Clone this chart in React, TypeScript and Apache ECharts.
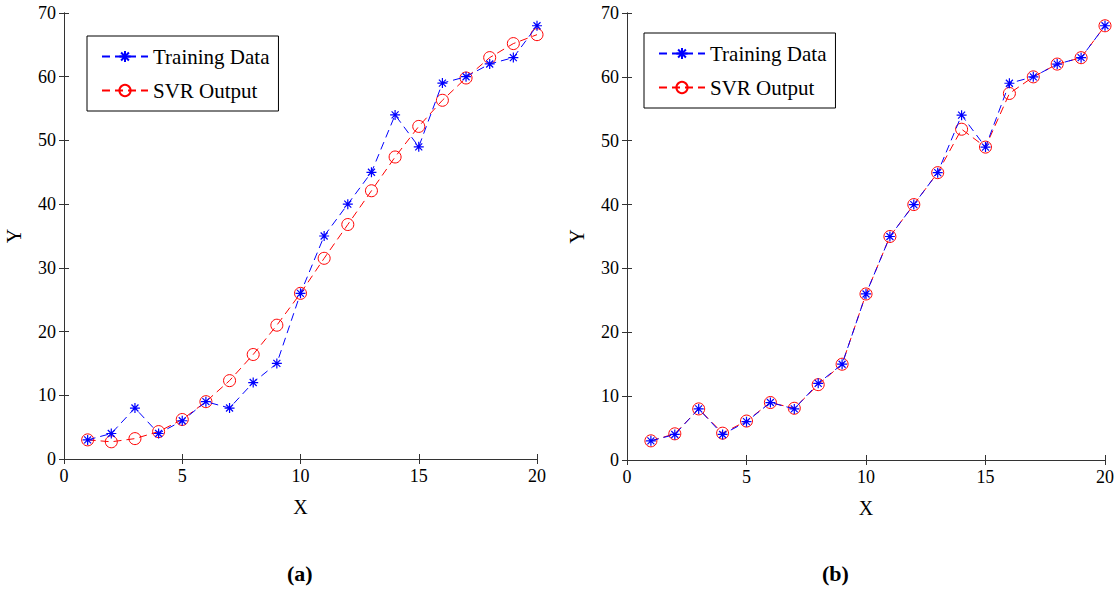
import React, { useEffect, useRef } from "react";
import * as echarts from "echarts";

const xValues = [1, 2, 3, 4, 5, 6, 7, 8, 9, 10, 11, 12, 13, 14, 15, 16, 17, 18, 19, 20];
const trainingData = [3, 4, 8, 4, 6, 9, 8, 12, 15, 26, 35, 40, 45, 54, 49, 59, 60, 62, 63, 68];
const svrOutputA = [3, 2.7, 3.2, 4.3, 6.2, 9, 12.3, 16.4, 21, 26, 31.5, 36.8, 42.1, 47.4, 52.2, 56.3, 59.8, 63, 65.2, 66.6];
const svrOutputB = [3, 4.1, 8, 4.2, 6.1, 9, 8.1, 11.8, 15, 26, 35, 40, 45, 51.8, 49, 57.4, 60, 62, 63, 68];
const xTicks = { min: 0, max: 20, interval: 5 };
const yTicks = { min: 0, max: 70, interval: 10 };
const captions = ["(a)", "(b)"];

const FONT = "Liberation Serif";
const STAR = "path://M0,-10L0,10M-10,0L10,0M-7,-7L7,7M-7,7L7,-7";

const pairs = (ys: number[]) => xValues.map((x, i) => [x, ys[i]]);

export default function App() {
  const ref = useRef<HTMLDivElement>(null);
  useEffect(() => {
    document.body.style.margin = "0";
    const chart = echarts.init(ref.current!, null, { renderer: "svg" });
    const grids = [
      { left: 64, top: 13, width: 473, height: 446 },
      { left: 627, top: 13, width: 478, height: 447 },
    ];
    const axisLine = { show: true, lineStyle: { color: "#333", width: 1 } };
    const tick = { show: true, inside: true, length: 5, lineStyle: { color: "#333" } };
    const label = { fontFamily: FONT, fontSize: 18, color: "#000" };
    const xAxis: any[] = [];
    const yAxis: any[] = [];
    grids.forEach((_, g) => {
      xAxis.push({
        type: "value", gridIndex: g, ...xTicks, position: "bottom",
        name: "X", nameLocation: "middle", nameGap: 38,
        nameTextStyle: { fontFamily: FONT, fontSize: 20, color: "#000" },
        axisLine, axisTick: tick, splitLine: { show: false },
        axisLabel: { ...label, margin: 8 },
      });
      xAxis.push({
        type: "value", gridIndex: g, ...xTicks, position: "top",
        axisLine, axisTick: tick, splitLine: { show: false }, axisLabel: { show: false },
      });
      yAxis.push({
        type: "value", gridIndex: g, ...yTicks, position: "left",
        name: "Y", nameLocation: "middle", nameGap: 40,
        nameTextStyle: { fontFamily: FONT, fontSize: 20, color: "#000" },
        axisLine, axisTick: tick, splitLine: { show: false },
        axisLabel: { ...label, margin: 8 },
      });
      yAxis.push({
        type: "value", gridIndex: g, ...yTicks, position: "right",
        axisLine, axisTick: tick, splitLine: { show: false }, axisLabel: { show: false },
      });
    });
    const mkTraining = (g: number) => ({
      name: "Training Data", type: "line", xAxisIndex: g * 2, yAxisIndex: g * 2,
      data: pairs(trainingData), symbol: STAR, symbolSize: 10,
      lineStyle: { color: "#0000ff", width: 1, type: [8, 5] },
      itemStyle: { color: "rgba(0,0,0,0)", borderColor: "#0000ff", borderWidth: 1.2 },
      z: 3,
    });
    const mkSvr = (g: number, ys: number[]) => ({
      name: "SVR Output", type: "line", xAxisIndex: g * 2, yAxisIndex: g * 2,
      data: pairs(ys), symbol: "circle", symbolSize: 12,
      lineStyle: { color: "#ff0000", width: 1, type: [8, 5] },
      itemStyle: { color: "rgba(0,0,0,0)", borderColor: "#ff0000", borderWidth: 1 },
      z: 2,
    });
    const legendBase = {
      orient: "vertical", borderColor: "#000", borderWidth: 1, backgroundColor: "#fff",
      padding: [10, 9, 10, 14], itemWidth: 46, itemHeight: 14, itemGap: 13,
      textStyle: { fontFamily: FONT, fontSize: 21, color: "#000" },
      selectedMode: false,
      data: ["Training Data", "SVR Output"],
    };
    chart.setOption({
      animation: false,
      backgroundColor: "#fff",
      grid: grids,
      xAxis,
      yAxis,
      legend: [
        { ...legendBase, left: 87, top: 36 },
        { ...legendBase, left: 644, top: 33 },
      ],
      series: [mkSvr(0, svrOutputA), mkTraining(0), mkSvr(1, svrOutputB), mkTraining(1)],
      graphic: [
        { type: "text", left: 287, top: 562, style: { text: captions[0], font: `bold 22px '${FONT}'`, fill: "#000" } },
        { type: "text", left: 822, top: 562, style: { text: captions[1], font: `bold 22px '${FONT}'`, fill: "#000" } },
      ],
    });
    return () => chart.dispose();
  }, []);
  return <div ref={ref} style={{ width: 1120, height: 592 }} />;
}
